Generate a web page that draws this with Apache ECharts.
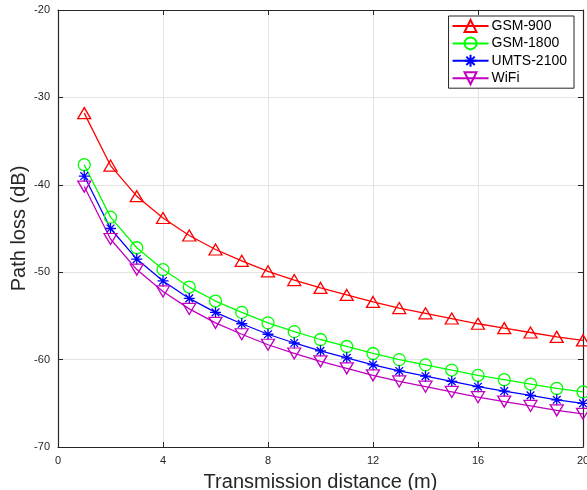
<!DOCTYPE html>
<html>
<head>
<meta charset="utf-8">
<script src="https://cdn.jsdelivr.net/npm/echarts@6/dist/echarts.min.js"></script>
<style>html,body{margin:0;padding:0;background:#fff}#c{width:587px;height:490px}</style>
</head>
<body>
<div id="c"></div>
<script>
const distances = [1,2,3,4,5,6,7,8,9,10,11,12,13,14,15,16,17,18,19,20];
const gsm900  = [-31.8,-37.8,-41.3,-43.8,-45.8,-47.4,-48.7,-49.9,-50.9,-51.8,-52.6,-53.4,-54.1,-54.7,-55.3,-55.9,-56.4,-56.9,-57.4,-57.8];
const gsm1800 = [-37.7,-43.7,-47.2,-49.7,-51.7,-53.3,-54.6,-55.8,-56.8,-57.7,-58.5,-59.3,-60.0,-60.6,-61.2,-61.8,-62.3,-62.8,-63.3,-63.7];
const umts2100 = [-39.0,-45.0,-48.5,-51.0,-53.0,-54.6,-55.9,-57.1,-58.1,-59.0,-59.8,-60.6,-61.3,-61.9,-62.5,-63.1,-63.6,-64.1,-64.6,-65.0];
const wifi    = [-40.2,-46.2,-49.7,-52.2,-54.2,-55.8,-57.1,-58.3,-59.3,-60.2,-61.0,-61.8,-62.5,-63.1,-63.7,-64.3,-64.8,-65.3,-65.8,-66.2];
const seriesNames = ['GSM-900','GSM-1800','UMTS-2100','WiFi'];
const xTicks = [0,4,8,12,16,20];
const yTicks = [-70,-60,-50,-40,-30,-20];

const FONT = 'Liberation Sans, Arial, Helvetica, sans-serif';
const AX = '#262626';
const triUp = 'path://M5,0L10,9L0,9Z';
const triDown = 'path://M0,0L10,0L5,9Z';
const star = 'path://M5,0L5,10M0,5L10,5M1.5,1.5L8.5,8.5M1.5,8.5L8.5,1.5';

function pairs(vals){ return distances.map((d,i)=>[d, vals[i]]); }
function mk(name, vals, color, symbol, size){
  return {
    name, type:'line', data: pairs(vals), symbol, symbolSize: size,
    showAllSymbol: true, animation:false,
    lineStyle:{color, width:1.3},
    itemStyle:{color:'rgba(0,0,0,0)', borderColor:color, borderWidth:1.3},
    emphasis:{disabled:true}
  };
}
const chart = echarts.init(document.getElementById('c'), null, {renderer:'canvas'});
const baseAxis = {
  axisLine:{show:true, onZero:false, lineStyle:{color:AX, width:1.2}},
  axisTick:{show:true, inside:true, length:5, lineStyle:{color:AX, width:1}},
};
chart.setOption({
  animation:false,
  backgroundColor:'#fff',
  grid:{left:58, right:4, top:10, bottom:43, containLabel:false, outerBoundsMode:'none'},
  legend:{
    data: seriesNames.map(n=>({name:n})),
    orient:'vertical', right:13, top:16,
    backgroundColor:'#fff', borderColor:AX, borderWidth:1,
    padding:[3,7,3,3], itemGap:3.4, itemWidth:36, itemHeight:15,
    textStyle:{fontFamily:FONT, fontSize:14, color:'#000', padding:[0,0,0,-2]},
    selectedMode:false
  },
  xAxis:[
    Object.assign({}, baseAxis, {type:'value', min:0, max:20, interval:4, position:'bottom',
      name:'Transmission distance (m)', nameLocation:'middle', nameGap:25, nameMoveOverlap:false,
      nameTextStyle:{fontFamily:FONT, fontSize:20, color:AX},
      axisLabel:{fontFamily:FONT, fontSize:11, color:AX, margin:8,
        formatter:v=> xTicks.includes(v) ? String(v) : ''},
      splitLine:{show:true, lineStyle:{color:'#e3e3e3', width:1}}}),
    Object.assign({}, baseAxis, {type:'value', min:0, max:20, interval:4, position:'top',
      axisLabel:{show:false}, splitLine:{show:false}})
  ],
  yAxis:[
    Object.assign({}, baseAxis, {type:'value', min:-70, max:-20, interval:10, position:'left',
      name:'Path loss (dB)', nameLocation:'middle', nameGap:29, nameRotate:90, nameMoveOverlap:false,
      nameTextStyle:{fontFamily:FONT, fontSize:20, color:AX},
      axisLabel:{fontFamily:FONT, fontSize:11, color:AX, margin:8,
        formatter:v=> yTicks.includes(v) ? String(v) : ''},
      splitLine:{show:true, lineStyle:{color:'#e3e3e3', width:1}}}),
    Object.assign({}, baseAxis, {type:'value', min:-70, max:-20, interval:10, position:'right',
      axisLabel:{show:false}, splitLine:{show:false}})
  ],
  series:[
    mk('GSM-900', gsm900, '#ff0000', triUp, [13,11]),
    mk('GSM-1800', gsm1800, '#00ff00', 'circle', 12),
    mk('UMTS-2100', umts2100, '#0000ff', star, 11),
    mk('WiFi', wifi, '#bf00bf', triDown, [13,11])
  ]
});
</script>
</body>
</html>
